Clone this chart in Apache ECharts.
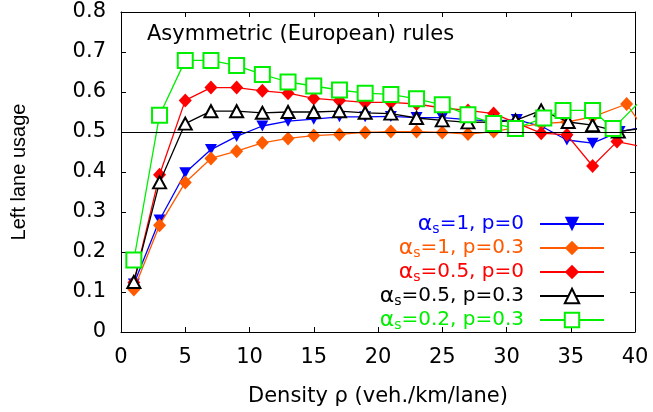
<!DOCTYPE html>
<html><head><meta charset="utf-8">
<script src="https://cdn.jsdelivr.net/npm/echarts@6/dist/echarts.min.js"></script>
<style>html,body{margin:0;padding:0;background:#fff}#c{width:653px;height:412px}</style>
</head><body><div id="c"></div><script>
// ---- data ----
const xTicks = { min: 0, max: 40, step: 5 };
const yTicks = { min: 0, max: 0.8, step: 0.1 };
const refLevel = 0.5;

const names = ['αs=1, p=0', 'αs=1, p=0.3', 'αs=0.5, p=0', 'αs=0.5, p=0.3', 'αs=0.2, p=0.3'];

const blueX  = [1,3,5,7,9,11,13,15,17,19,21,23,25,27,29,30.8,32.8,34.7,36.7,38.8,40.8];
const blueY  = [0.120,0.280,0.398,0.456,0.489,0.515,0.527,0.532,0.538,0.538,0.539,0.536,0.536,0.531,0.527,0.531,0.513,0.480,0.472,0.501,0.513];

const orangeX = [1,3,5,7,9,11,13,15,17,19,21,23,25,27,29,30.7,32.7,34.7,36.7,39.35,41.3];
const orangeY = [0.106,0.267,0.374,0.434,0.452,0.473,0.484,0.491,0.494,0.499,0.501,0.501,0.499,0.495,0.501,0.511,0.521,0.525,0.538,0.570,0.480];

const redX = [1,3,5,7,9,11,13,15,17,19,21,23,25,27,29,30.8,32.7,34.7,36.7,38.6,40.6];
const redY = [0.124,0.393,0.579,0.611,0.611,0.603,0.597,0.584,0.579,0.574,0.574,0.570,0.560,0.554,0.546,0.522,0.497,0.493,0.415,0.476,0.463];

const blackX = [1,3,5,7,9,11,13,15,17,19,21,23,25,27,29,30.7,32.7,34.8,36.7,38.7,40.7];
const blackY = [0.125,0.374,0.521,0.552,0.552,0.548,0.550,0.550,0.552,0.548,0.546,0.535,0.529,0.524,0.525,0.529,0.554,0.525,0.517,0.501,0.510];

const greenX = [1,3,5,7,9,11,13,15,17,19,21,23,25,27,29,30.7,32.9,34.4,36.7,38.3,40.5];
const greenY = [0.180,0.542,0.679,0.679,0.666,0.644,0.625,0.615,0.605,0.597,0.594,0.583,0.568,0.543,0.521,0.509,0.535,0.554,0.554,0.509,0.580];

// ---- styles ----
const colors = ['#0000ff', '#ff5a00', '#ff0000', '#000000', '#00ee00'];
const FONT = 'DejaVu Sans';

function pairs(xs, ys) { return xs.map((x, i) => [x, ys[i]]); }

const seriesDefs = [
  { x: blueX, y: blueY, symbol: 'triangle', size: [12, 11], rotate: 180, empty: false },
  { x: orangeX, y: orangeY, symbol: 'diamond', size: [13, 14], rotate: 0, empty: false },
  { x: redX, y: redY, symbol: 'diamond', size: [13, 14], rotate: 0, empty: false },
  { x: blackX, y: blackY, symbol: 'emptyTriangle', size: [13, 12], rotate: 0, empty: true },
  { x: greenX, y: greenY, symbol: 'emptyRect', size: [15, 15], rotate: 0, empty: true }
];

const series = seriesDefs.map((d, i) => {
  const s = {
    name: names[i],
    type: 'line',
    xAxisIndex: 0, yAxisIndex: 0,
    data: pairs(d.x, d.y),
    symbol: d.symbol,
    symbolSize: d.size,
    symbolRotate: d.rotate,
    showAllSymbol: true,
    clip: true,
    lineStyle: { color: colors[i], width: 1.3 },
    itemStyle: d.empty ? { color: colors[i], borderColor: colors[i], borderWidth: 1.4 } : { color: colors[i], borderWidth: 0 },
    emphasis: { disabled: true },
    animation: false,
    z: 2 + i * 0.01
  };
  if (i === seriesDefs.length - 1) {
    s.markLine = {
      silent: true, symbol: ['none', 'none'], animation: false,
      label: { show: false },
      lineStyle: { color: '#000', width: 1, type: 'solid' },
      emphasis: { disabled: true },
      data: [{ yAxis: refLevel }]
    };
  }
  return s;
});

function richFor(c) {
  return {
    a: { fontFamily: FONT, fontSize: 22, color: c },
    s: { fontFamily: FONT, fontSize: 14, color: c, padding: [11, 0, 0, 0] },
    b: { fontFamily: FONT, fontSize: 20, color: c, padding: [0, 11, 0, 0] }
  };
}

const legendData = names.map((n, i) => ({
  name: n,
  textStyle: { color: colors[i], fontFamily: FONT, fontSize: 20, rich: richFor(colors[i]) }
}));

const axisCommon = {
  axisLine: { show: true, onZero: false, lineStyle: { color: '#000', width: 1 } },
  axisTick: { show: true, inside: true, length: 5, lineStyle: { color: '#000', width: 1 } },
  splitLine: { show: false }
};

const option = {
  backgroundColor: '#fff',
  animation: false,
  title: {
    text: 'Asymmetric (European) rules',
    left: 147, top: 24,
    padding: 0,
    textStyle: { fontFamily: FONT, fontSize: 21, fontWeight: 'normal', color: '#000' }
  },
  grid: { left: 121, right: 18, top: 12, bottom: 75, containLabel: false },
  legend: {
    orient: 'vertical',
    align: 'right',
    right: 48, top: 213,
    padding: 0,
    itemGap: 0.5,
    itemWidth: 64, itemHeight: 18,
    data: legendData,
    selectedMode: false,
    formatter: function (name) {
      const rest = name.replace(/^αs/, '');
      return '{a|α}{s|s}{b|' + rest + '}';
    }
  },
  xAxis: [
    Object.assign({}, axisCommon, {
      type: 'value', position: 'bottom',
      min: xTicks.min, max: xTicks.max, interval: xTicks.step,
      name: 'Density ρ (veh./km/lane)', nameLocation: 'middle', nameGap: 54,
      nameTextStyle: { fontFamily: FONT, fontSize: 21, color: '#000' },
      axisLabel: { show: true, margin: 15, fontFamily: FONT, fontSize: 21, color: '#000' }
    }),
    Object.assign({}, axisCommon, {
      type: 'value', position: 'top',
      min: xTicks.min, max: xTicks.max, interval: xTicks.step,
      axisLabel: { show: false }
    })
  ],
  yAxis: [
    Object.assign({}, axisCommon, {
      type: 'value', position: 'left',
      min: yTicks.min, max: yTicks.max, interval: yTicks.step,
      name: 'Left lane usage', nameLocation: 'middle', nameGap: 92,
      nameTextStyle: { fontFamily: 'Liberation Sans', fontSize: 20, color: '#000' },
      axisLabel: { show: true, margin: 15, fontFamily: FONT, fontSize: 21, color: '#000' }
    }),
    Object.assign({}, axisCommon, {
      type: 'value', position: 'right',
      min: yTicks.min, max: yTicks.max, interval: yTicks.step,
      axisLabel: { show: false }
    })
  ],
  series: series
};

const chart = echarts.init(document.getElementById('c'), null, { renderer: 'canvas' });
chart.setOption(option);
</script></body></html>
